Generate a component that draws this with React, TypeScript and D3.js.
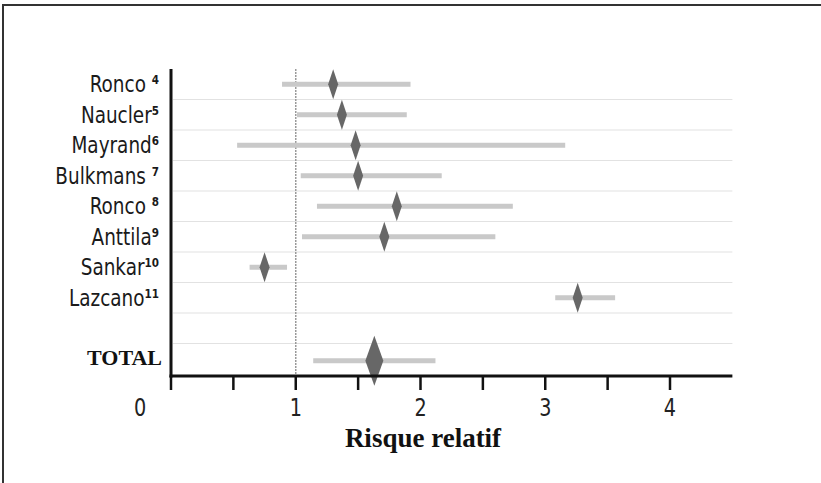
import React, { useEffect, useRef } from 'react'
import * as d3 from 'd3'

const studies = ['Ronco', 'Naucler', 'Mayrand', 'Bulkmans', 'Ronco', 'Anttila', 'Sankar', 'Lazcano', '', 'TOTAL']
const refs = ['4', '5', '6', '7', '8', '9', '10', '11', '', '']
const refSpace = [true, false, false, true, true, false, false, false, false, false]
const rr = [1.3, 1.37, 1.48, 1.5, 1.81, 1.71, 0.75, 3.26, null, 1.63]
const ciLow = [0.89, 1.01, 0.53, 1.04, 1.17, 1.05, 0.63, 3.08, null, 1.14]
const ciHigh = [1.92, 1.89, 3.16, 2.17, 2.74, 2.6, 0.93, 3.56, null, 2.12]
const xTicks = [0, 0.5, 1, 1.5, 2, 2.5, 3, 3.5, 4]
const xTickLabels = ['0', '1', '2', '3', '4']

const narrow = '"Liberation Sans Narrow", "DejaVu Sans Condensed", "Roboto Condensed", sans-serif'
const serif = '"Liberation Serif", "DejaVu Serif", serif'
// the scan's labels are set in a very condensed face
const squeeze = 0.89

export default function App() {
	const ref = useRef<SVGSVGElement>(null)

	useEffect(() => {
		const svg = d3.select(ref.current)
		svg.selectAll('*').remove()

		const x = d3.scaleLinear().domain([0, 4]).range([171, 670])
		const y = d3
			.scaleBand()
			.domain(studies.map((_, i) => String(i)))
			.range([69, 374])
		const axisY = 376
		const xEnd = x(4.5)

		// frame (only top and left edges visible in the scan)
		svg.append('line').attr('x1', 3).attr('x2', 821).attr('y1', 5).attr('y2', 5)
			.attr('stroke', '#333').attr('stroke-width', 2)
		svg.append('line').attr('x1', 3).attr('x2', 3).attr('y1', 4).attr('y2', 483)
			.attr('stroke', '#333').attr('stroke-width', 2)

		// row separators
		svg
			.append('g')
			.selectAll('line')
			.data(studies.slice(1))
			.enter()
			.append('line')
			.attr('x1', x(0) + 2)
			.attr('x2', xEnd)
			.attr('y1', (_, i) => y(String(i + 1)) as number)
			.attr('y2', (_, i) => y(String(i + 1)) as number)
			.attr('stroke', '#e2e2e2')
			.attr('stroke-width', 1.2)

		// null line at RR = 1
		svg
			.append('line')
			.attr('x1', x(1))
			.attr('x2', x(1))
			.attr('y1', 69)
			.attr('y2', axisY)
			.attr('stroke', '#9a9a9a')
			.attr('stroke-width', 1.5)
			.attr('stroke-dasharray', '2,1')

		const rows = studies
			.map((s, i) => ({ s, i, rr: rr[i], lo: ciLow[i], hi: ciHigh[i] }))
			.filter((d) => d.rr !== null)

		const cy = (i: number) => (y(String(i)) as number) + y.bandwidth() / 2 + (i === 9 ? 2 : 0)

		// confidence intervals
		svg
			.append('g')
			.selectAll('rect')
			.data(rows)
			.enter()
			.append('rect')
			.attr('x', (d) => x(d.lo as number))
			.attr('y', (d) => cy(d.i) - 2.5)
			.attr('width', (d) => x(d.hi as number) - x(d.lo as number))
			.attr('height', 5)
			.attr('fill', '#c9c9c9')

		// point estimates
		svg
			.append('g')
			.selectAll('path')
			.data(rows)
			.enter()
			.append('path')
			.attr('d', (d) => {
				const px = x(d.rr as number)
				const py = cy(d.i)
				const w = d.i === 9 ? 9 : 5
				const h = d.i === 9 ? 25 : 15
				return `M${px},${py - h}L${px + w},${py}L${px},${py + h}L${px - w},${py}Z`
			})
			.attr('fill', '#676767')

		// axes
		svg.append('line').attr('x1', x(0)).attr('x2', x(0)).attr('y1', 69).attr('y2', axisY + 1.5)
			.attr('stroke', '#111').attr('stroke-width', 3)
		svg.append('line').attr('x1', x(0) - 1.5).attr('x2', xEnd).attr('y1', axisY).attr('y2', axisY)
			.attr('stroke', '#111').attr('stroke-width', 3)
		svg
			.append('g')
			.selectAll('line')
			.data(xTicks)
			.enter()
			.append('line')
			.attr('x1', (d) => x(d))
			.attr('x2', (d) => x(d))
			.attr('y1', axisY)
			.attr('y2', axisY + 14)
			.attr('stroke', '#111')
			.attr('stroke-width', 2.5)

		svg
			.append('g')
			.attr('transform', `scale(${squeeze},1)`)
			.selectAll('text')
			.data(xTickLabels)
			.enter()
			.append('text')
			.attr('x', (d) => (x(+d) + (d === '0' ? -31 : 0)) / squeeze)
			.attr('y', 416)
			.attr('text-anchor', 'middle')
			.attr('font-family', narrow)
			.attr('font-size', 24)
			.attr('fill', '#222')
			.text((d) => d)

		svg
			.append('text')
			.attr('x', 423)
			.attr('y', 447)
			.attr('text-anchor', 'middle')
			.attr('font-family', serif)
			.attr('font-weight', 'bold')
			.attr('font-size', 27)
			.attr('fill', '#111')
			.text('Risque relatif')

		// study labels
		const named = studies.map((s, i) => ({ s, i })).filter((d) => d.s !== '')
		const labels = svg
			.append('g')
			.attr('transform', `scale(${squeeze},1)`)
			.selectAll('text')
			.data(named.filter((d) => d.i !== 9))
			.enter()
			.append('text')
			.attr('x', 159 / squeeze)
			.attr('y', (d) => cy(d.i) + 8)
			.attr('text-anchor', 'end')
			.attr('fill', '#1a1a1a')
			.attr('font-family', narrow)
			.attr('font-size', 23)

		labels.append('tspan').text((d) => d.s + (refSpace[d.i] ? ' ' : ''))
		labels
			.filter((d) => refs[d.i] !== '')
			.append('tspan')
			.attr('dy', -8)
			.attr('font-size', 13)
			.attr('font-weight', 'bold')
			.text((d) => refs[d.i])

		svg
			.append('text')
			.attr('x', 162)
			.attr('y', cy(9) + 4)
			.attr('text-anchor', 'end')
			.attr('fill', '#111')
			.attr('font-family', serif)
			.attr('font-weight', 'bold')
			.attr('font-size', 22)
			.text(studies[9])
	}, [])

	return (
		<div style={{ position: 'absolute', left: 0, top: 0, background: '#fff' }}>
			<svg ref={ref} width={821} height={483} style={{ display: 'block' }} />
		</div>
	)
}
